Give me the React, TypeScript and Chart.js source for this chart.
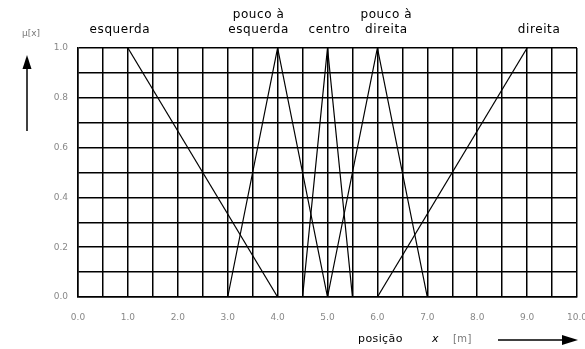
import React, { useEffect, useRef } from "react";
import { Chart, registerables } from "chart.js";

Chart.register(...registerables);

// membership functions (x in m, μ)
const esquerdaX = [1, 4];
const esquerdaY = [1, 0];
const poucoEsqX = [3, 4, 5];
const poucoEsqY = [0, 1, 0];
const centroX = [4.5, 5, 5.5];
const centroY = [0, 1, 0];
const poucoDirX = [5, 6, 7];
const poucoDirY = [0, 1, 0];
const direitaX = [6, 9];
const direitaY = [0, 1];

const setNames = ["esquerda", "pouco à esquerda", "centro", "pouco à direita", "direita"];
// label lines and the x (data units) where each label is centred
const labelLines = [["esquerda"], ["pouco à", "esquerda"], ["centro"], ["pouco à", "direita"], ["direita"]];
const labelCenters = [0.84, 3.62, 5.04, 6.18, 9.24];

const pts = (xs: number[], ys: number[]) => xs.map((x, i) => ({ x, y: ys[i] }));

const annotations = {
  id: "annotations",
  afterDraw(chart: any) {
    const ctx = chart.ctx as CanvasRenderingContext2D;
    const xs = chart.scales.x;
    ctx.save();
    ctx.fillStyle = "#000";
    ctx.font = "12px 'DejaVu Sans'";
    (ctx as any).letterSpacing = "0.6px";
    ctx.textAlign = "center";
    ctx.textBaseline = "middle";
    labelLines.forEach((lines, i) => {
      const cx = xs.getPixelForValue(labelCenters[i]);
      const n = lines.length;
      lines.forEach((t, j) => {
        const y = 30 - (n - 1 - j) * 15;
        ctx.fillText(t, cx, y);
      });
    });
    // μ[x]
    (ctx as any).letterSpacing = "0px";
    ctx.fillStyle = "#777";
    ctx.font = "9px 'DejaVu Sans'";
    ctx.fillText("μ[x]", 31, 34);
    // vertical arrow
    ctx.strokeStyle = "#000";
    ctx.fillStyle = "#000";
    ctx.lineWidth = 1.5;
    ctx.beginPath();
    ctx.moveTo(27, 131);
    ctx.lineTo(27, 64);
    ctx.stroke();
    ctx.beginPath();
    ctx.moveTo(27, 55);
    ctx.lineTo(22.5, 69);
    ctx.lineTo(31.5, 69);
    ctx.closePath();
    ctx.fill();
    // x axis caption
    ctx.textAlign = "left";
    ctx.fillStyle = "#000";
    ctx.font = "11px 'DejaVu Sans'";
    (ctx as any).letterSpacing = "0.4px";
    ctx.fillText("posição", 358, 339);
    ctx.font = "italic 11px 'DejaVu Sans'";
    ctx.fillText("x", 432, 339);
    ctx.fillStyle = "#777";
    ctx.font = "10px 'DejaVu Sans'";
    ctx.fillText("[m]", 453, 339);
    // horizontal arrow
    ctx.strokeStyle = "#000";
    ctx.fillStyle = "#000";
    ctx.beginPath();
    ctx.moveTo(498, 340);
    ctx.lineTo(566, 340);
    ctx.stroke();
    ctx.beginPath();
    ctx.moveTo(578, 340);
    ctx.lineTo(562, 335);
    ctx.lineTo(562, 345);
    ctx.closePath();
    ctx.fill();
    ctx.restore();
  },
};

export default function App() {
  const ref = useRef<HTMLCanvasElement>(null);
  useEffect(() => {
    if (!ref.current) return;
    const series = [
      pts(esquerdaX, esquerdaY),
      pts(poucoEsqX, poucoEsqY),
      pts(centroX, centroY),
      pts(poucoDirX, poucoDirY),
      pts(direitaX, direitaY),
    ];
    const chart = new Chart(ref.current, {
      type: "line",
      data: {
        datasets: series.map((d, i) => ({
          label: setNames[i],
          data: d,
          borderColor: "#000",
          borderWidth: 1.2,
          pointRadius: 0,
          fill: false,
          tension: 0,
        })),
      },
      options: {
        animation: false,
        responsive: false,
        layout: { padding: { left: 0, right: 8, top: 48, bottom: 0 } },
        plugins: { legend: { display: false }, tooltip: { enabled: false } },
        scales: {
          x: {
            type: "linear",
            min: 0,
            max: 10,
            border: { color: "#000", width: 1.5 },
            grid: { color: "#000", lineWidth: 1.5, drawTicks: false },
            ticks: {
              stepSize: 0.5,
              autoSkip: false,
              maxRotation: 0,
              padding: 15,
              color: "#888",
              font: { family: "DejaVu Sans", size: 9 },
              callback: (v: any) => (Number.isInteger(v) ? Number(v).toFixed(1) : ""),
            },
            afterFit: (s: any) => {
              s.height = 52;
              s.paddingLeft = 0;
              s.paddingRight = 0;
            },
          },
          y: {
            type: "linear",
            min: 0,
            max: 1,
            border: { color: "#000", width: 1.5 },
            grid: { color: "#000", lineWidth: 1.5, drawTicks: false },
            ticks: {
              stepSize: 0.1,
              autoSkip: false,
              padding: 10,
              color: "#888",
              font: { family: "DejaVu Sans", size: 9 },
              callback: (v: any) => {
                const k = Math.round(Number(v) * 10);
                return k % 2 === 0 ? (k / 10).toFixed(1) : "";
              },
            },
            afterFit: (s: any) => {
              s.width = 78;
              s.paddingTop = 0;
              s.paddingBottom = 0;
            },
          },
        },
      },
      plugins: [annotations],
    });
    return () => chart.destroy();
  }, []);
  return (
    <div style={{ position: "fixed", left: 0, top: 0, width: 585, height: 349, background: "#fff" }}>
      <canvas ref={ref} width={585} height={349} />
    </div>
  );
}
